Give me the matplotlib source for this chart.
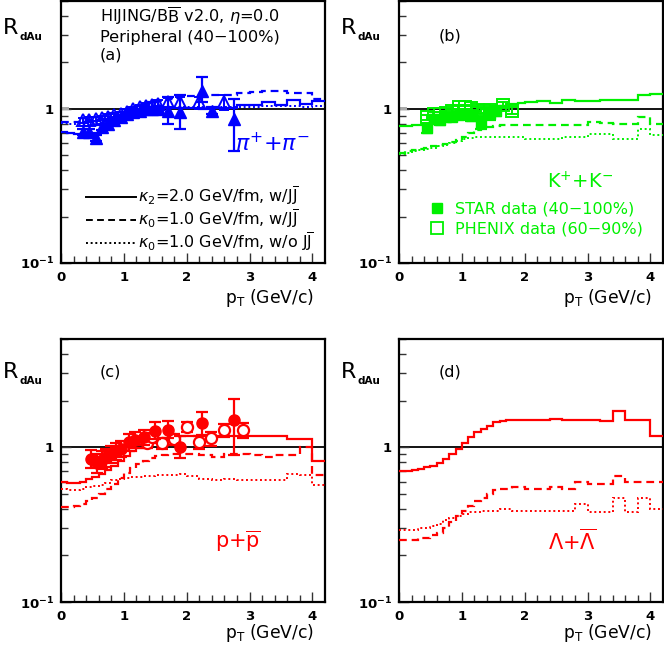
import numpy as np
import matplotlib
matplotlib.use("Agg")
import matplotlib.pyplot as plt
from matplotlib.lines import Line2D
from matplotlib.ticker import FixedLocator, FixedFormatter, NullFormatter

plt.rcParams['font.family'] = ['DejaVu Sans']
plt.rcParams['mathtext.fontset'] = 'dejavusans'

# ---------------- data ----------------
# histogram bin edges (GeV/c)
edges = np.concatenate([np.round(np.arange(0, 2.0001, 0.1), 2), np.round(np.arange(2.2, 4.2001, 0.2), 2)])

# panel (a) pi+ + pi-
a_solid = [0.71, 0.70, 0.69, 0.69, 0.69, 0.70, 0.72, 0.75, 0.78, 0.82, 0.86, 0.90, 0.93, 0.96, 0.98, 1.00, 1.01, 1.01, 1.01, 1.01,
           1.01, 1.00, 1.01, 1.01, 1.06, 1.06, 1.11, 1.06, 1.14, 1.08, 1.12]
a_dash = [0.82, 0.82, 0.82, 0.83, 0.84, 0.85, 0.87, 0.89, 0.92, 0.95, 0.98, 1.02, 1.05, 1.08, 1.10, 1.12, 1.14, 1.16, 1.17, 1.19,
          1.21, 1.22, 1.23, 1.22, 1.27, 1.29, 1.31, 1.30, 1.27, 1.27, 1.16]
a_dot = [0.81, 0.80, 0.80, 0.80, 0.81, 0.82, 0.84, 0.86, 0.89, 0.92, 0.95, 0.97, 0.99, 1.00, 1.01, 1.02, 1.02, 1.02, 1.02, 1.02,
         1.02, 1.02, 1.02, 1.02, 1.02, 1.03, 1.04, 1.04, 1.05, 1.03, 1.04]
a_star_pt = [0.35, 0.45, 0.55, 0.65, 0.75, 0.85, 0.95, 1.05, 1.15, 1.25, 1.35, 1.45, 1.55, 1.7, 1.9, 2.25, 2.4, 2.75]
a_star = [0.71, 0.71, 0.65, 0.76, 0.80, 0.84, 0.88, 0.92, 0.95, 0.97, 0.99, 1.00, 1.00, 0.97, 0.95, 1.31, 0.97, 0.86]
a_star_lo = [0.03, 0.03, 0.03, 0.03, 0.03, 0.03, 0.03, 0.03, 0.03, 0.03, 0.03, 0.03, 0.04, 0.17, 0.21, 0.21, 0.04, 0.33]
a_star_hi = [0.03, 0.03, 0.03, 0.03, 0.03, 0.03, 0.03, 0.03, 0.03, 0.03, 0.03, 0.03, 0.04, 0.23, 0.27, 0.29, 0.05, 0.30]
a_phx_pt = [0.35, 0.45, 0.55, 0.65, 0.75, 0.85, 0.95, 1.05, 1.15, 1.25, 1.35, 1.45, 1.55, 1.7, 1.9, 2.2, 2.6]
a_phx = [0.84, 0.85, 0.86, 0.87, 0.89, 0.91, 0.93, 0.96, 0.99, 1.02, 1.04, 1.06, 1.08, 1.10, 1.10, 1.10, 1.10]
a_phx_err = [0.03, 0.03, 0.03, 0.03, 0.03, 0.03, 0.03, 0.04, 0.04, 0.04, 0.05, 0.05, 0.06, 0.08, 0.09, 0.10, 0.12]

# panel (b) K+ + K-
b_solid = [0.77, 0.77, 0.78, 0.78, 0.79, 0.80, 0.82, 0.84, 0.86, 0.89, 0.92, 0.95, 0.97, 0.99, 1.01, 1.03, 1.05, 1.07, 1.08, 1.09,
           1.10, 1.13, 1.09, 1.14, 1.13, 1.12, 1.14, 1.14, 1.14, 1.23, 1.25]
b_dash = [0.52, 0.53, 0.54, 0.55, 0.56, 0.57, 0.58, 0.59, 0.61, 0.63, 0.66, 0.70, 0.73, 0.75, 0.76, 0.77, 0.78, 0.78, 0.78, 0.79,
          0.79, 0.79, 0.78, 0.79, 0.79, 0.82, 0.81, 0.80, 0.80, 0.89, 0.80]
b_dot = [0.51, 0.52, 0.53, 0.54, 0.55, 0.56, 0.57, 0.58, 0.60, 0.62, 0.64, 0.65, 0.66, 0.66, 0.66, 0.66, 0.66, 0.66, 0.66, 0.66,
         0.64, 0.64, 0.64, 0.66, 0.66, 0.69, 0.69, 0.64, 0.64, 0.74, 0.68]
b_star_pt = [0.45, 0.55, 0.65, 0.75, 0.85, 0.95, 1.05, 1.15, 1.3, 1.45, 1.55]
b_star = [0.75, 0.86, 0.84, 0.88, 0.89, 0.91, 0.92, 0.90, 0.81, 0.93, 0.97]
b_star_err = [0.05, 0.05, 0.05, 0.05, 0.05, 0.05, 0.06, 0.07, 0.07, 0.08, 0.07]
b_phx_pt = [0.45, 0.55, 0.65, 0.75, 0.85, 0.95, 1.05, 1.15, 1.25, 1.35, 1.45, 1.65, 1.8]
b_phx = [0.88, 0.92, 0.92, 0.94, 0.97, 1.02, 1.03, 1.01, 0.98, 0.97, 0.98, 1.06, 0.97]
b_phx_err = [0.03, 0.03, 0.03, 0.03, 0.03, 0.03, 0.03, 0.03, 0.04, 0.04, 0.04, 0.05, 0.05]

# panel (c) p + pbar
c_solid = [0.60, 0.59, 0.59, 0.60, 0.62, 0.64, 0.67, 0.71, 0.76, 0.82, 0.88, 0.94, 0.99, 1.03, 1.06, 1.09, 1.12, 1.14, 1.16, 1.18,
           1.19, 1.19, 1.19, 1.19, 1.19, 1.19, 1.18, 1.18, 1.13, 1.13, 0.81]
c_dash = [0.41, 0.41, 0.42, 0.43, 0.45, 0.47, 0.50, 0.54, 0.58, 0.63, 0.68, 0.73, 0.78, 0.82, 0.85, 0.88, 0.89, 0.90, 0.91, 0.91,
          0.90, 0.89, 0.87, 0.90, 0.91, 0.89, 0.87, 0.89, 0.89, 1.00, 0.66]
c_dot = [0.54, 0.53, 0.53, 0.54, 0.55, 0.56, 0.57, 0.59, 0.61, 0.62, 0.63, 0.64, 0.64, 0.65, 0.65, 0.66, 0.66, 0.66, 0.66, 0.67,
         0.65, 0.62, 0.61, 0.62, 0.61, 0.61, 0.61, 0.61, 0.67, 0.66, 0.57]
c_star_pt = [0.48, 0.58, 0.65, 0.72, 0.80, 0.88, 0.95, 1.08, 1.18, 1.32, 1.50, 1.70, 1.90, 2.25, 2.75]
c_star = [0.84, 0.79, 0.83, 0.86, 0.90, 0.94, 0.97, 1.08, 1.12, 1.16, 1.28, 1.30, 1.01, 1.43, 1.49]
c_star_lo = [0.11, 0.11, 0.11, 0.11, 0.11, 0.11, 0.11, 0.13, 0.13, 0.13, 0.15, 0.16, 0.16, 0.23, 0.60]
c_star_hi = [0.12, 0.12, 0.12, 0.12, 0.12, 0.12, 0.12, 0.14, 0.14, 0.14, 0.17, 0.18, 0.18, 0.27, 0.55]
c_phx_pt = [1.37, 1.45, 1.61, 1.79, 2.01, 2.20, 2.39, 2.60, 2.90]
c_phx = [1.06, 1.16, 1.06, 1.13, 1.35, 1.08, 1.14, 1.29, 1.29]
c_phx_err = [0.07, 0.08, 0.08, 0.09, 0.10, 0.10, 0.12, 0.13, 0.14]

# panel (d) Lambda + Lambdabar
d_solid = [0.70, 0.70, 0.71, 0.72, 0.74, 0.76, 0.79, 0.84, 0.90, 0.98, 1.06, 1.16, 1.25, 1.32, 1.38, 1.45, 1.48, 1.49, 1.50, 1.50,
           1.49, 1.49, 1.51, 1.49, 1.49, 1.50, 1.48, 1.71, 1.49, 1.50, 1.18]
d_dash = [0.25, 0.25, 0.25, 0.26, 0.26, 0.27, 0.28, 0.30, 0.33, 0.36, 0.39, 0.42, 0.45, 0.47, 0.50, 0.53, 0.54, 0.54, 0.55, 0.55,
          0.54, 0.54, 0.55, 0.54, 0.60, 0.58, 0.58, 0.65, 0.60, 0.60, 0.60]
d_dot = [0.29, 0.29, 0.29, 0.30, 0.30, 0.31, 0.32, 0.34, 0.35, 0.36, 0.37, 0.38, 0.38, 0.39, 0.39, 0.39, 0.40, 0.40, 0.39, 0.39,
         0.39, 0.39, 0.39, 0.39, 0.43, 0.38, 0.38, 0.47, 0.38, 0.47, 0.40]

x_ticks = [0, 1, 2, 3, 4]
x_ticklabels = ['0', '1', '2', '3', '4']
y_ticks = [0.1, 1]
y_ticklabels = [r'$\mathbf{10^{-1}}$', r'$\mathbf{1}\ \ $']

BLUE = '#0000ff'
GREEN = '#00f000'
RED = '#ff0000'
DASH = (0, (3.5, 2.2))
DOT = (0, (1.0, 1.4))

W, H = 664, 645
fig = plt.figure(figsize=(W / 100, H / 100), dpi=100)


def px_axes(x0, y0, x1, y1):
    return fig.add_axes([x0 / W, 1 - y1 / H, (x1 - x0) / W, (y1 - y0) / H])


axa = px_axes(61, 1, 325, 263)
axb = px_axes(399, 1, 663, 263)
axc = px_axes(61, 339, 325, 602)
axd = px_axes(399, 339, 663, 602)


def style(ax):
    ax.set_yscale('log')
    ax.set_xlim(0, 4.2)
    ax.set_ylim(0.1, 5.0)
    for s in ax.spines.values():
        s.set_linewidth(1.6)
    ax.yaxis.set_major_locator(FixedLocator(y_ticks))
    ax.yaxis.set_major_formatter(FixedFormatter(y_ticklabels))
    ax.yaxis.set_minor_locator(FixedLocator([0.2, 0.3, 0.4, 0.5, 0.6, 0.7, 0.8, 0.9, 2, 3, 4, 5]))
    ax.yaxis.set_minor_formatter(NullFormatter())
    ax.xaxis.set_major_locator(FixedLocator(x_ticks))
    ax.xaxis.set_major_formatter(FixedFormatter(x_ticklabels))
    ax.xaxis.set_minor_locator(FixedLocator(np.arange(0.2, 4.2, 0.2)))
    ax.tick_params(which='both', direction='in', top=False, right=False, width=1.0, color='#333333')
    ax.tick_params(which='major', length=7, labelsize=9.5)
    ax.tick_params(which='minor', length=4.8)
    ax.tick_params(axis='x', pad=6)
    ax.tick_params(axis='y', pad=5)
    for lab in ax.get_xticklabels() + ax.get_yticklabels():
        lab.set_fontweight('bold')
    ax.axhline(1.0, color='black', lw=1.3, zorder=1)


def curves(ax, solid, dash, dot, color):
    ax.stairs(solid, edges, color=color, lw=1.6, baseline=None, zorder=3)
    ax.stairs(dash, edges, color=color, lw=1.6, ls=DASH, baseline=None, zorder=3)
    ax.stairs(dot, edges, color=color, lw=1.4, ls=DOT, baseline=None, zorder=3)


for ax in (axa, axb, axc, axd):
    style(ax)

# normalisation boxes
for ax in (axa, axb):
    ax.fill_between([0, 0.13], 0.985, 1.03, color='#aaaaaa', lw=0, zorder=2)

# (a)
curves(axa, a_solid, a_dash, a_dot, BLUE)
axa.errorbar(a_phx_pt, a_phx, yerr=a_phx_err, fmt='^', mfc='none', mec=BLUE, ecolor=BLUE,
             ms=8, mew=1.4, elinewidth=1.4, capsize=3.5, capthick=1.4, zorder=4)
axa.errorbar(a_star_pt, a_star, yerr=[a_star_lo, a_star_hi], fmt='^', color=BLUE,
             ms=8, elinewidth=1.6, capsize=4, capthick=1.6, zorder=5)

# (b)
curves(axb, b_solid, b_dash, b_dot, GREEN)
axb.errorbar(b_phx_pt, b_phx, yerr=b_phx_err, fmt='s', mfc='none', mec=GREEN, ecolor=GREEN,
             ms=8, mew=1.4, elinewidth=1.4, capsize=3.5, capthick=1.4, zorder=4)
axb.errorbar(b_star_pt, b_star, yerr=b_star_err, fmt='s', color=GREEN,
             ms=7, elinewidth=1.6, capsize=4, capthick=1.6, zorder=5)

# (c)
curves(axc, c_solid, c_dash, c_dot, RED)
axc.errorbar(c_phx_pt, c_phx, yerr=c_phx_err, fmt='o', mfc='white', mec=RED, ecolor=RED,
             ms=8, mew=1.6, elinewidth=1.6, capsize=4, capthick=1.6, zorder=4)
axc.errorbar(c_star_pt, c_star, yerr=[c_star_lo, c_star_hi], fmt='o', color=RED,
             ms=8, elinewidth=1.6, capsize=4, capthick=1.6, zorder=5)

# (d)
curves(axd, d_solid, d_dash, d_dot, RED)

# ---------------- texts ----------------
FS = 11.6
axa.text(0.148, 0.921, r'HIJING/B$\overline{\rm B}$ v2.0, $\eta$=0.0', transform=axa.transAxes,
         fontsize=FS, va='baseline', ha='left')
axa.text(0.148, 0.845, 'Peripheral (40\u2212100%)', transform=axa.transAxes, fontsize=FS, va='baseline', ha='left')
axa.text(0.148, 0.778, '(a)', transform=axa.transAxes, fontsize=FS, va='baseline', ha='left')
axb.text(0.150, 0.851, '(b)', transform=axb.transAxes, fontsize=FS, va='baseline', ha='left')
axc.text(0.148, 0.856, '(c)', transform=axc.transAxes, fontsize=FS, va='baseline', ha='left')
axd.text(0.150, 0.856, '(d)', transform=axd.transAxes, fontsize=FS, va='baseline', ha='left')

axa.text(0.80, 0.455, r'$\pi^{+}$+$\pi^{-}$', transform=axa.transAxes, fontsize=16, color=BLUE,
         ha='center', va='center')
axb.text(0.685, 0.31, r'K$^{+}$+K$^{-}$', transform=axb.transAxes, fontsize=14, color=GREEN,
         ha='center', va='center')
axc.text(0.67, 0.23, r'p+$\overline{\rm p}$', transform=axc.transAxes, fontsize=15, color=RED,
         ha='center', va='center')
axd.text(0.655, 0.23, r'$\Lambda$+$\overline{\Lambda}$', transform=axd.transAxes, fontsize=15, color=RED,
         ha='center', va='center')

# legends
hs = [Line2D([], [], color='black', lw=1.4),
      Line2D([], [], color='black', lw=1.4, ls=DASH),
      Line2D([], [], color='black', lw=1.4, ls=DOT)]
labs = [r'$\kappa_2$=2.0 GeV/fm, w/J$\overline{\rm J}$',
        r'$\kappa_0$=1.0 GeV/fm, w/J$\overline{\rm J}$',
        r'$\kappa_0$=1.0 GeV/fm, w/o J$\overline{\rm J}$']
axa.legend(hs, labs, loc='lower right', bbox_to_anchor=(0.958, 0.035), frameon=False, fontsize=11.5,
           handlelength=3.1, handletextpad=0.15, labelspacing=0.0, borderpad=0, borderaxespad=0)

hb = [Line2D([], [], color=GREEN, marker='s', ls='none', ms=7),
      Line2D([], [], color=GREEN, marker='s', ls='none', ms=8, mfc='none', mew=1.3)]
lb = axb.legend(hb, ['STAR data (40\u2212100%)', 'PHENIX data (60\u221290%)'], loc='upper left',
                bbox_to_anchor=(0.12, 0.235), frameon=False, fontsize=11.5, handlelength=0.8,
                handletextpad=0.7, labelspacing=0.3, borderpad=0, borderaxespad=0)
for t in lb.get_texts():
    t.set_color(GREEN)

# axis titles (R_dAu and pT)
for (xr, yr) in [(3, 34), (341, 34), (3, 378), (341, 378)]:
    fig.text(xr / W, 1 - yr / H, 'R', fontsize=16, ha='left', va='baseline')
    fig.text((xr + 17) / W, 1 - (yr + 6) / H, 'dAu', fontsize=7.5, fontweight='bold', ha='left', va='baseline')
for ax, yoff in ((axa, -0.093), (axb, -0.093), (axc, -0.076), (axd, -0.076)):
    ax.text(0.958, yoff, r'p$_{\rm T}$ (GeV/c)', transform=ax.transAxes, fontsize=12.3,
            ha='right', va='top')

fig.savefig('out.png', dpi=100)
